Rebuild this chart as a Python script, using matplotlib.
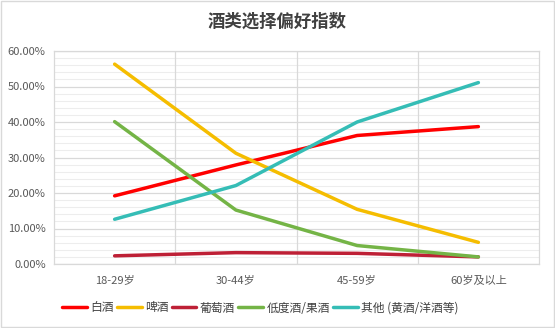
import numpy as np
import matplotlib
matplotlib.use("Agg")
import matplotlib.pyplot as plt
from matplotlib.ticker import MultipleLocator, FuncFormatter

plt.rcParams['font.family'] = ['Noto Sans CJK SC', 'DejaVu Sans']

# age groups and preference index per drink type (percent)
ages = ["18-29岁", "30-44岁", "45-59岁", "60岁及以上"]
baijiu = [19.2, 27.9, 36.2, 38.7]
beer = [56.3, 31.2, 15.4, 6.1]
wine = [2.3, 3.2, 3.0, 2.0]
low_abv = [40.1, 15.2, 5.2, 2.0]
other = [12.6, 22.1, 40.0, 51.1]

names = ["白酒", "啤酒", "葡萄酒", "低度酒/果酒", "其他 (黄酒/洋酒等)"]
colors = ["#FF0000", "#F5BD00", "#BE2036", "#74B446", "#35BDB6"]

fig = plt.figure(figsize=(5.55, 3.28), dpi=100)
ax = fig.add_axes([54/555, 1 - 264/328, 485/555, 213/328])

x = np.arange(len(ages))
for vals, name, c in zip([baijiu, beer, wine, low_abv, other], names, colors):
    ax.plot(x, vals, color=c, lw=2.5, label=name, solid_capstyle='round', zorder=3)

ax.set_xlim(-0.5, len(ages) - 0.5)
ax.set_ylim(0, 60)
ax.yaxis.set_major_locator(MultipleLocator(10))
ax.yaxis.set_minor_locator(MultipleLocator(2))
ax.yaxis.set_major_formatter(FuncFormatter(lambda v, p: "%.2f%%" % v))
ax.set_xticks(x)
ax.set_xticklabels(ages)

ax.grid(axis='y', which='minor', color='#EDEDED', lw=0.8, zorder=0)
ax.grid(axis='y', which='major', color='#D9D9D9', lw=0.9, zorder=1)
# category separators
for b in np.arange(0.5, len(ages) - 1, 1):
    ax.axvline(b, color='#D9D9D9', lw=0.9, zorder=2)
ax.set_axisbelow(True)
for s in ax.spines.values():
    s.set_color('#D9D9D9')
    s.set_linewidth(0.9)
ax.tick_params(which='both', length=0)
ax.tick_params(axis='y', labelsize=8, labelcolor='#595959', pad=6)
ax.tick_params(axis='x', labelsize=8, labelcolor='#595959', pad=8)

fig.suptitle("酒类选择偏好指数", y=1 - 22/328, va='center', fontsize=12.5,
             fontweight='bold', color='#404040')

fig.legend(loc='center', bbox_to_anchor=(0.469, 1 - 308/328), ncol=5, frameon=False,
           fontsize=8.5, handlelength=2.1, handletextpad=0.3, columnspacing=0.25,
           labelcolor='#404040')

fig.patches.append(plt.Rectangle((0.001, 0.002), 0.997, 0.995, transform=fig.transFigure,
                                 fill=False, edgecolor='#D9D9D9', lw=1))

fig.savefig("out.png", dpi=100)
